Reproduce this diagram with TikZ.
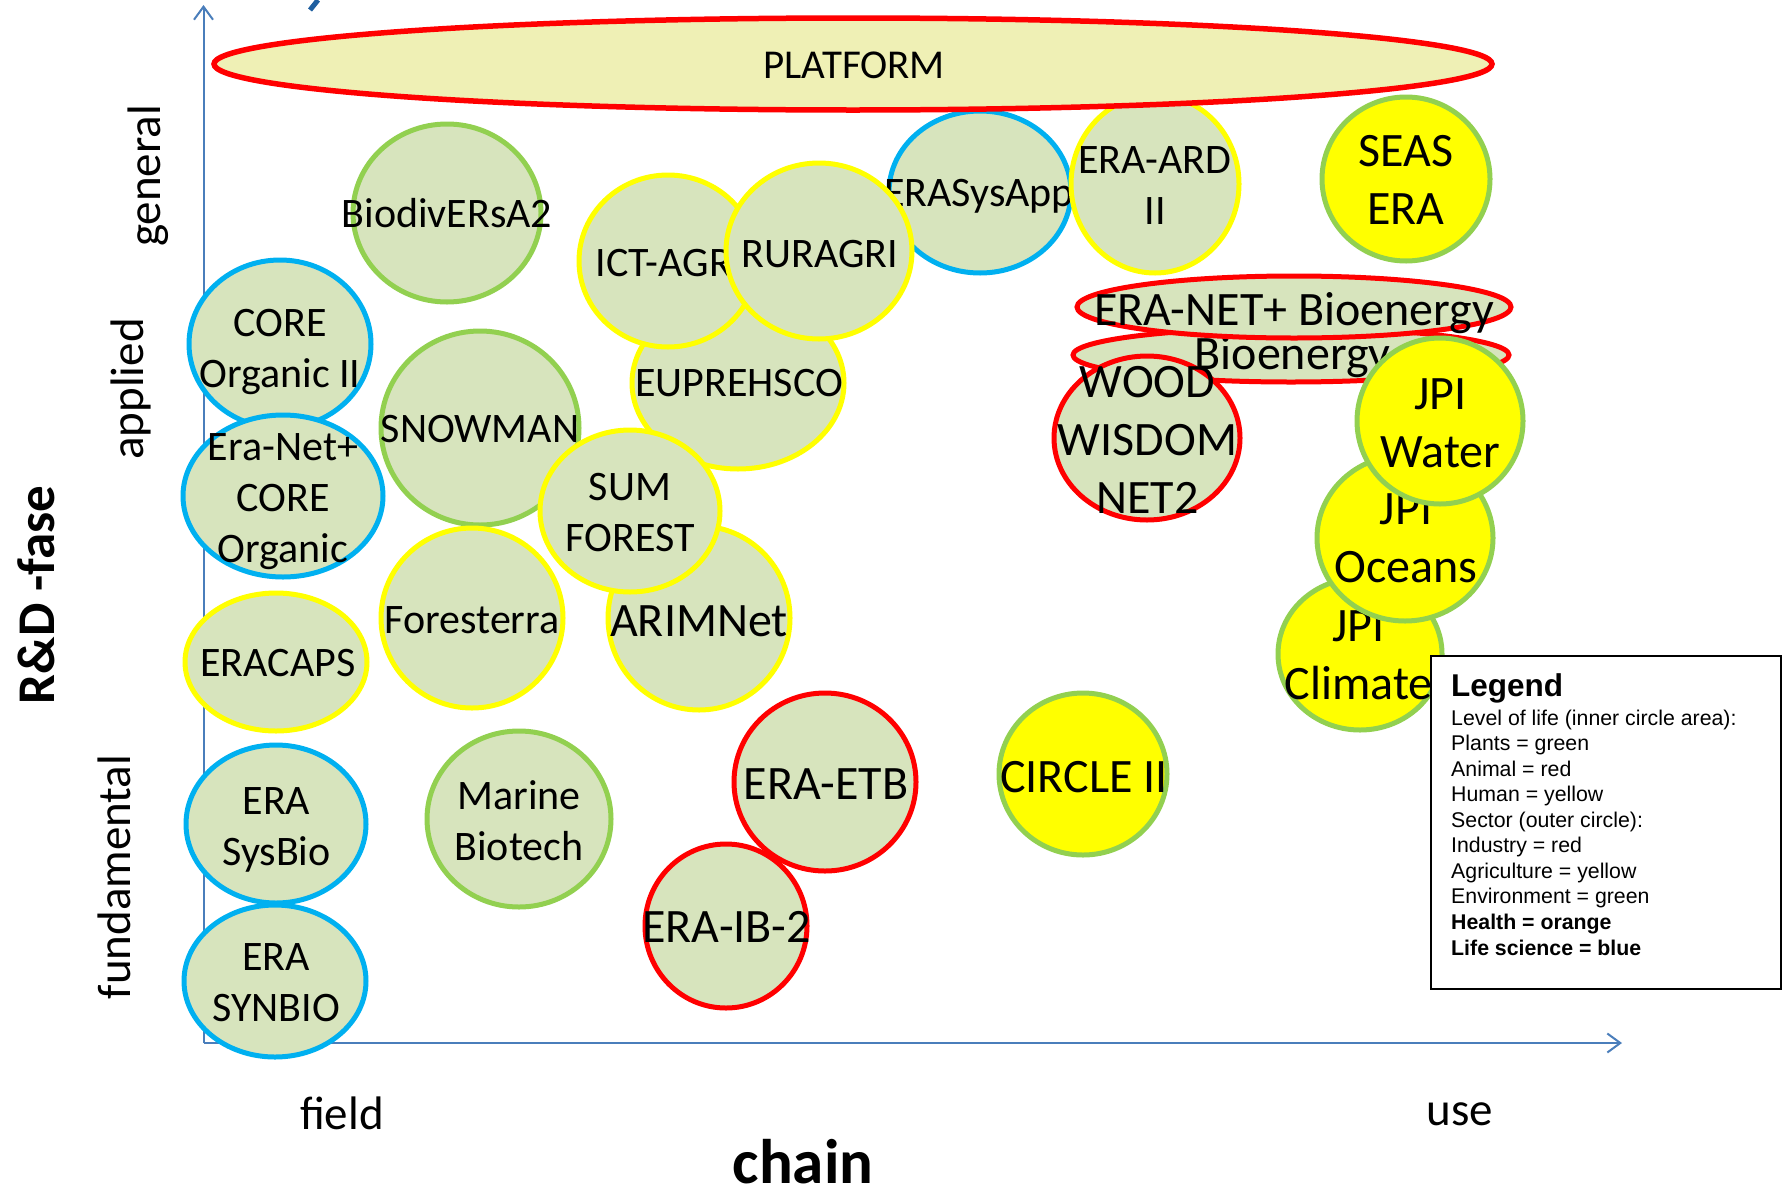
\documentclass[tikz,border=0pt]{standalone}
\usepackage{fontspec}
\setmainfont{Carlito}
\newfontfamily\arialf{Liberation Sans}
\usetikzlibrary{arrows.meta}
\definecolor{bubfill}{HTML}{D7E4BD}
\definecolor{platfill}{HTML}{EFF0B5}
\definecolor{ogreen}{HTML}{92D050}
\definecolor{oyellow}{HTML}{FFFF00}
\definecolor{oblue}{HTML}{00B0F0}
\definecolor{ored}{HTML}{FF0000}
\definecolor{axiscol}{HTML}{4A7EBB}
\definecolor{titleblue}{HTML}{1F5FA0}
\tikzset{
  bub/.style={line width=5pt, fill=bubfill},
  bubG/.style={bub, draw=ogreen},
  bubY/.style={bub, draw=oyellow},
  bubB/.style={bub, draw=oblue},
  bubR/.style={bub, draw=ored},
  bubYG/.style={bub, draw=ogreen, fill=oyellow},
  tS/.style={inner sep=0pt, align=center, font=\fontsize{42}{51}\selectfont},
  tL/.style={inner sep=0pt, align=center, font=\fontsize{48}{58}\selectfont},
  axlbl/.style={inner sep=0pt, font=\fontsize{47}{56}\selectfont},
  axis/.style={draw=axiscol, line width=2pt, -{Straight Barb[length=13pt,width=19pt,line width=2pt]}},
  legtxt/.style={inner sep=0pt, anchor=base west, font=\arialf\fontsize{21.3}{25}\selectfont},
  legbold/.style={legtxt, font=\arialf\fontsize{21.3}{25}\selectfont\bfseries},
}
\newcommand\sT[1]{\strut #1}
\begin{document}
\begin{tikzpicture}[x=1pt,y=-1pt]
\useasboundingbox (0,0) rectangle (1784,1194);

% title remnant
\draw[titleblue, line width=5pt] (318,0) -- (310,10);

% axes
\coordinate (orig) at (203.5,1043);
\coordinate (ytop) at (203.5,5);
\coordinate (xend) at (1622,1043);
\draw[axis] (orig) -- (ytop);
\draw[axis] (orig) -- (xend);

% axis labels
\node[axlbl, rotate=90] (lgen) at (148,176) {general};
\node[axlbl, rotate=90] (lapp) at (131,389) {applied};
\node[axlbl, rotate=90] (lfun) at (114,877) {fundamental};
\node[inner sep=0pt, rotate=90, font=\fontsize{53}{60}\selectfont\bfseries] (lrd) at (36,595) {R\&D -fase};
\node[axlbl] (lfield) at (342,1113) {field};
\node[axlbl] (luse) at (1460,1114) {use};
\node[inner sep=0pt, font=\fontsize{63}{70}\selectfont\bfseries] (lchain) at (803,1162) {chain};

% bubbles
\draw[bubG] (447,213) ellipse [x radius=94, y radius=89];
\node[tS] (biod) at (447,217.5) {\sT{BiodivERsA2}};

\draw[bubB] (280,344) ellipse [x radius=91, y radius=84];
\node[tS] (core2) at (280,351.5) {\sT{CORE}\\\sT{Organic II}};

\draw[bubB] (283,496) ellipse [x radius=100, y radius=81];
\node[tS] (erancore) at (283,501.5) {\sT{Era-Net+}\\\sT{CORE}\\\sT{Organic}};

\draw[bubG] (480,428) ellipse [x radius=99, y radius=97];
\node[tS] (snow) at (480,432.5) {\sT{SNOWMAN}};

\draw[bubY] (738,383) ellipse [x radius=106, y radius=86];
\node[tS] (eupr) at (739,386.5) {\sT{EUPREHSCO}};

\draw[bubB] (980,192) ellipse [x radius=91, y radius=81];
\node[tS] (erasys) at (979,196.5) {\sT{ERASysApp}};

\draw[bubY] (668,261) ellipse [x radius=89, y radius=86];
\node[tS] (ict) at (669,266.5) {\sT{ICT-AGRI}};

\draw[bubY] (819,251) ellipse [x radius=93, y radius=88];
\node[tS] (rur) at (820,257.5) {\sT{RURAGRI}};

\draw[bubY] (1155,184) ellipse [x radius=84, y radius=89];
\node[tS] (eraard) at (1155,189) {\sT{ERA-ARD}\\\sT{II}};

\draw[bubYG] (1406,179) ellipse [x radius=84, y radius=82];
\node[tL] (seas) at (1406,184) {\sT{SEAS}\\\sT{ERA}};

\draw[bubY] (699,618) ellipse [x radius=91, y radius=92];
\node[tL] (arim) at (699,625) {\sT{ARIMNet}};

\draw[bubY] (472,618) ellipse [x radius=91, y radius=90];
\node[tS] (fores) at (472,623.5) {\sT{Foresterra}};

\draw[bubY] (630,511) ellipse [x radius=90, y radius=81];
\node[tS] (sumf) at (630,516) {\sT{SUM}\\\sT{FOREST}};

\draw[bubY] (276,662) ellipse [x radius=91, y radius=69];
\node[tS] (eracaps) at (278,666.5) {\sT{ERACAPS}};

\draw[bubB] (276,824) ellipse [x radius=90, y radius=79];
\node[tS] (sysbio) at (276.5,829.5) {\sT{ERA}\\\sT{SysBio}};

\draw[bubB] (275,981) ellipse [x radius=91, y radius=76];
\node[tS] (synbio) at (276,985.5) {\sT{ERA}\\\sT{SYNBIO}};

\draw[bubG] (519,819) ellipse [x radius=92, y radius=88];
\node[tS] (marine) at (519,824.5) {\sT{Marine}\\\sT{Biotech}};

\draw[bubR] (825,782) ellipse [x radius=91, y radius=89];
\node[tL] (etb) at (826,788) {\sT{ERA-ETB}};

\draw[bubR] (726,926) ellipse [x radius=81, y radius=82];
\node[tL] (ib2) at (726.5,931) {\sT{ERA-IB-2}};

\draw[bubYG] (1083,774) ellipse [x radius=84, y radius=81];
\node[tL] (circ) at (1084,781) {\sT{CIRCLE II}};

\draw[bubYG] (1360,654) ellipse [x radius=82, y radius=76];
\node[tL] (jpic) at (1358.5,659) {\sT{JPI}\\\sT{Climate}};

\draw[bubYG] (1405,538) ellipse [x radius=88, y radius=83];
\node[tL] (jpio) at (1406,541.5) {\sT{JPI}\\\sT{Oceans}};

\draw[bubR] (1291,355) ellipse [x radius=218, y radius=27];
\node[tL] (bio2) at (1292.5,358) {\sT{Bioenergy}};

\draw[bubR] (1294,307) ellipse [x radius=217, y radius=31];
\node[tL] (bio1) at (1294,313.5) {\sT{ERA-NET+ Bioenergy}};

\draw[bubR] (1147,438) ellipse [x radius=93, y radius=82];
\node[tL] (wood) at (1147.5,444) {\sT{WOOD}\\\sT{WISDOM}\\\sT{NET2}};

\draw[bubYG] (1440,421) ellipse [x radius=83, y radius=83];
\node[tL] (jpiw) at (1440.5,426.5) {\sT{JPI}\\\sT{Water}};

% platform
\draw[line width=5.5pt, draw=ored, fill=platfill] (853,64) ellipse [x radius=639, y radius=46];
\node[inner sep=0pt, font=\fontsize{41}{50}\selectfont] (plat) at (854,68) {\sT{PLATFORM}};

% legend
\draw[line width=2pt, fill=white] (1431,655.5) rectangle (1781,988.5);
\node[inner sep=0pt, anchor=base west, font=\arialf\fontsize{31.5}{36}\selectfont\bfseries] (legtitle) at (1451,696.5) {Legend};
\node[legtxt] (leg1) at (1451,725) {Level of life (inner circle area):};
\node[legtxt] (leg2) at (1451,750.6) {Plants = green};
\node[legtxt] (leg3) at (1451,776.1) {Animal = red};
\node[legtxt] (leg4) at (1451,801.7) {Human = yellow};
\node[legtxt] (leg5) at (1451,827.2) {Sector (outer circle):};
\node[legtxt] (leg6) at (1451,852.8) {Industry = red};
\node[legtxt] (leg7) at (1451,878.4) {Agriculture = yellow};
\node[legtxt] (leg8) at (1451,903.9) {Environment = green};
\node[legbold] (leg9) at (1451,929.5) {Health = orange};
\node[legbold] (leg10) at (1451,955) {Life science = blue};
\end{tikzpicture}
\end{document}
